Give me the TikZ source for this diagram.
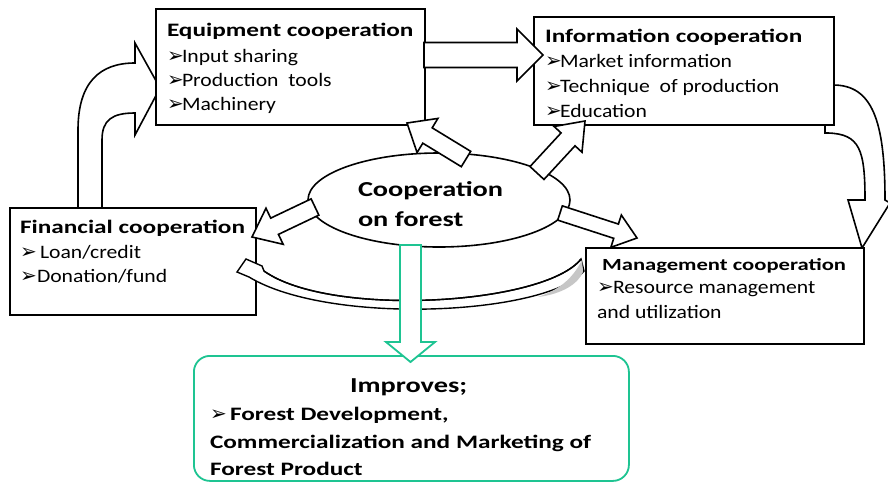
\documentclass[tikz,border=0pt]{standalone}
\usepackage{fontspec}
\usetikzlibrary{calc,shapes.geometric}
\setmainfont{Carlito}[FakeStretch=1.14]
\newfontfamily\headfont{Carlito}[FakeStretch=1.33]
\newfontfamily\dvfont{DejaVu Sans}
\definecolor{tealgreen}{RGB}{30,196,146}

\newcommand\bul[1][15pt]{\makebox[#1][l]{\dvfont\fontsize{20}{20}\selectfont ➢}}
\newcommand\regtext{\fontsize{19}{22}\selectfont}
\newcommand\headtext[1][19]{\headfont\bfseries\fontsize{#1}{22}\selectfont}
\newcommand\bigtext{\headfont\bfseries\fontsize{21.3}{24}\selectfont}

% straight block arrow: [style]{start}{tip}{shaft half width}{head half width}{head length}
\newcommand\fatarrow[6][]{%
  \coordinate (fa-s) at (#2);
  \coordinate (fa-t) at (#3);
  \coordinate (fa-h) at ($(fa-t)!#6!(fa-s)$);
  \draw[blockarrow,#1]
    ($(fa-s)!#4!90:(fa-t)$) -- ($(fa-h)!#4!90:(fa-t)$) -- ($(fa-h)!#5!90:(fa-t)$)
    -- (fa-t)
    -- ($(fa-h)!#5!-90:(fa-t)$) -- ($(fa-h)!#4!-90:(fa-t)$) -- ($(fa-s)!#4!-90:(fa-t)$) -- cycle;
}

\tikzset{
  boxst/.style={draw=black, line width=1.8pt, fill=white, anchor=north west, inner sep=0pt},
  blockarrow/.style={draw=black, line width=1.6pt, fill=white, line join=miter},
  greenarrow/.style={draw=tealgreen, line width=1.8pt, fill=white},
  txt/.style={anchor=base west, inner sep=0pt, outer sep=0pt},
}

\begin{document}
\begin{tikzpicture}[x=1pt, y=-1pt]
\useasboundingbox (0,0) rectangle (888,482);
\fill[white] (0,0) rectangle (888,482);

% curved arrow: financial -> equipment
\draw[blockarrow] (78,215) -- (78,130) .. controls (78,82) and (100,63) .. (135,63)
  -- (135,43) -- (160,88) -- (135,135) -- (135,113)
  .. controls (112,113) and (102,120) .. (102,140) -- (102,215) -- cycle;

% curved arrow: information -> management
\draw[blockarrow] (825,85) -- (833,85) .. controls (872,85) and (885,120) .. (885,200)
  -- (890,203) -- (862,248) -- (848,200) -- (865,200)
  .. controls (865,150) and (860,134) .. (828,133) -- (825,133) -- cycle;

% boxes
\node[boxst, minimum width=269pt, minimum height=116pt] (equip) at (155,8) {};
\node[boxst, minimum width=300pt, minimum height=108pt] (info) at (533,16) {};
\node[boxst, minimum width=246pt, minimum height=107pt] (fin) at (9,207) {};
\node[boxst, minimum width=278pt, minimum height=96pt] (mgmt) at (585,247) {};
\node[boxst, draw=tealgreen, rounded corners=16pt, minimum width=435pt, minimum height=125pt] (impr) at (193,355) {};

% curved return ribbon: management -> financial
\draw[line width=1.4pt, fill=white, line join=miter]
  (581,259) .. controls (545,305) and (330,318) .. (264,271)
  -- (262,266) -- (246,259) -- (237,272) -- (249,277)
  .. controls (330,326) and (548,315) .. (584,271) -- cycle;
\fill[gray!45] (582,260) .. controls (572,280) and (558,290) .. (538,297)
  .. controls (562,294) and (578,284) .. (583,272) -- cycle;
\draw[line width=1.4pt] (581,259) .. controls (545,305) and (330,318) .. (264,271);

% central ellipse
\node[ellipse, draw=black, line width=1.6pt, fill=white, minimum width=262pt, minimum height=94pt, inner sep=0pt] (coop) at (439,200) {};

% block arrows
\coordinate (eq2inS) at (424,55);   \coordinate (eq2inT) at (543,55);
\fatarrow{eq2inS}{eq2inT}{12.5pt}{26pt}{26pt}
\coordinate (co2eqS) at (466,159);  \coordinate (co2eqT) at (407,123);
\fatarrow{co2eqS}{co2eqT}{9pt}{20pt}{24pt}
\coordinate (co2inS) at (537,173);  \coordinate (co2inT) at (585,121);
\fatarrow{co2inS}{co2inT}{9.5pt}{19pt}{25pt}
\coordinate (co2fiS) at (315,207);  \coordinate (co2fiT) at (252,237);
\fatarrow{co2fiS}{co2fiT}{9pt}{20pt}{25pt}
\coordinate (co2mgS) at (560,213);  \coordinate (co2mgT) at (637,238);
\fatarrow{co2mgS}{co2mgT}{7.5pt}{17pt}{22pt}
\coordinate (co2imS) at (410.5,245); \coordinate (co2imT) at (410.5,362);
\fatarrow[greenarrow]{co2imS}{co2imT}{10.5pt}{24.5pt}{20pt}

% texts: equipment
\node[txt] (eqt) at (167,36) {\headtext Equipment cooperation};
\node[txt] (eq1) at (167,62) {\regtext\bul Input sharing};
\node[txt] (eq2) at (167,86) {\regtext\bul Production\ \ tools};
\node[txt] (eq3) at (167,110) {\regtext\bul Machinery};

% texts: information
\node[txt] (int) at (545,42) {\headtext Information cooperation};
\node[txt] (in1) at (545,67) {\regtext\bul Market information};
\node[txt] (in2) at (545,92) {\regtext\bul Technique\ \ of production};
\node[txt] (in3) at (545,117) {\regtext\bul Education};

% texts: financial
\node[txt] (fit) at (20,233) {\headtext Financial cooperation};
\node[txt] (fi1) at (20,258) {\regtext\bul[20pt]Loan/credit};
\node[txt] (fi2) at (20,282) {\regtext\bul[17pt]Donation/fund};

% texts: management
\node[txt] (mgt) at (597,270) {\headtext[17] Management cooperation};
\node[txt] (mg1) at (597,293) {\regtext\bul[16pt]Resource management};
\node[txt] (mg2) at (597,318) {\regtext and utilization};

% texts: ellipse
\node[txt] (co1) at (358,196) {\bigtext Cooperation};
\node[txt] (co2) at (358,226) {\bigtext on forest};

% texts: improves
\node[txt] (imt) at (350,392) {\bigtext Improves;};
\node[txt] (im1) at (210,420) {\headtext\bul[20pt]Forest Development,};
\node[txt] (im2) at (210,448) {\headtext Commercialization and Marketing of};
\node[txt] (im3) at (210,475) {\headtext Forest Product};
\end{tikzpicture}
\end{document}
